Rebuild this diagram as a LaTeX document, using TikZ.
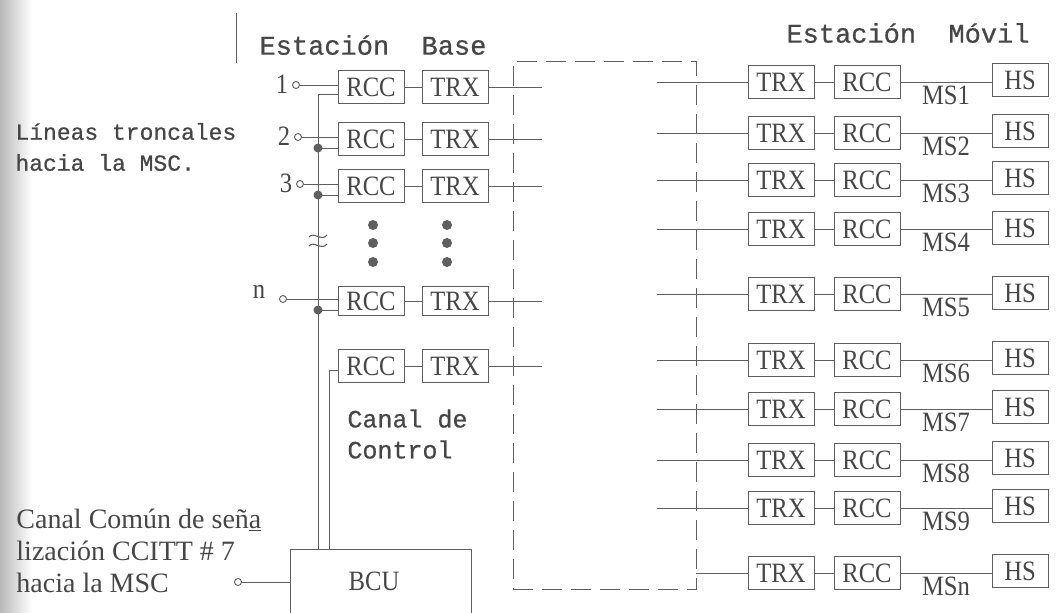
\documentclass[tikz,border=0pt]{standalone}
\usepackage{fontspec}
\setmainfont{Liberation Serif}
\setmonofont{Liberation Mono}
\newfontfamily\scanserif[FakeStretch=0.88]{Liberation Serif}
\newfontfamily\typefont[FakeBold=0.6]{Liberation Mono}
\usepackage{xcolor}
\definecolor{scanline}{RGB}{95,95,95}
\definecolor{scantext}{RGB}{70,70,70}
\usetikzlibrary{positioning, calc}

\begin{document}
\begin{tikzpicture}[x=1pt, y=-1pt, line width=0.9pt, draw=scanline,
  blk/.style={draw=scanline, text=scantext, minimum width=66pt, minimum height=33pt,
              inner sep=0pt, font=\scanserif\fontsize{28}{28}\selectfont},
  hsblk/.style={blk, minimum width=56pt},
  term/.style={circle, draw=scanline, fill=white, inner sep=0pt, minimum size=7pt},
  junc/.style={circle, fill=scanline, inner sep=0pt, minimum size=9pt},
  typed/.style={text=scantext, align=left},
  lbl/.style={text=scantext, font=\scanserif\fontsize{28}{28}\selectfont}]

\useasboundingbox (0,0) rectangle (1061,613);
\clip (0,0) rectangle (1061,613);
\shade[left color=black!28, right color=white] (0,0) rectangle (32,613);

% === Headings ===
\draw[scanline] (236,13) -- (236,63);
\node[typed, font=\typefont\fontsize{27}{30}\selectfont] (estbase) at (373,45) {Estación\ \ Base};
\node[typed, font=\typefont\fontsize{27}{30}\selectfont] (estmovil) at (908,33) {Estación\ \ Móvil};
\node[typed, font=\typefont\fontsize{23}{31}\selectfont, anchor=west, inner sep=0pt] (troncales) at (15,147)
     {Líneas troncales\\hacia la MSC.};

% === Base station channels ===
\node[blk] (rcc1) at (371,87) {RCC};
\node[blk] (trx1) at (455,87) {TRX};
\node[blk] (rcc2) at (371,139) {RCC};
\node[blk] (trx2) at (455,139) {TRX};
\node[blk] (rcc3) at (371,186) {RCC};
\node[blk] (trx3) at (455,186) {TRX};
\node[blk, minimum height=29pt] (rccn) at (371,301) {RCC};
\node[blk, minimum height=29pt] (trxn) at (455,301) {TRX};
\node[blk] (rccc) at (371,366) {RCC};
\node[blk] (trxc) at (455,366) {TRX};

\draw (rcc1) -- (trx1);
\draw (rcc2) -- (trx2);
\draw (rcc3) -- (trx3);
\draw (rccn) -- (trxn);
\draw (rccc) -- (trxc);

% dots between channel 3 and n
\fill[scanline] (373,225) circle (5);
\fill[scanline] (373,243) circle (5);
\fill[scanline] (373,262) circle (5);
\fill[scanline] (447,225) circle (5);
\fill[scanline] (447,243) circle (5);
\fill[scanline] (447,262) circle (5);

% trunk terminals
\node[term] (t1) at (296,85) {};
\node[term] (t2) at (298,137) {};
\node[term] (t3) at (300,184) {};
\node[term] (tn) at (283,299) {};
\node[lbl, left=0pt of t1, yshift=1pt] (l1) {1};
\node[lbl, left=0pt of t2, yshift=1pt] (l2) {2};
\node[lbl, left=0pt of t3, yshift=1pt] (l3) {3};
\node[lbl] (ln) at (259,292) {n};

\draw (t1.east) -- (t1.east -| rcc1.west);
\draw (t2.east) -- (t2.east -| rcc2.west);
\draw (t3.east) -- (t3.east -| rcc3.west);
\draw (tn.east) -- (tn.east -| rccn.west);

% === BCU and buses ===
\node[blk, minimum width=181pt, minimum height=90pt, anchor=north] (bcu) at (381,549) {};
\node[lbl] (bcutext) at (374,581) {BCU};

\coordinate (bustop) at (318,94);
\node[junc] (j2) at (318,148) {};
\node[junc] (j3) at (318,195) {};
\node[junc] (jn) at (318,310) {};
\draw (bustop -| rcc1.west) -- (bustop) -- (bustop |- bcu.north);
\draw (j2.center) -- (j2.center -| rcc2.west);
\draw (j3.center) -- (j3.center -| rcc3.west);
\draw (jn.center) -- (jn.center -| rccn.west);
\coordinate (ctlbus) at (329,370);
\draw (ctlbus -| rccc.west) -- (ctlbus) -- (ctlbus |- bcu.north);

% break mark on the bus
\draw[line width=1.1pt] (309,237) .. controls (313,231) and (322,242) .. (327,235);
\draw[line width=1.1pt] (309,246) .. controls (313,240) and (322,251) .. (327,244);

\node[typed, font=\typefont\fontsize{25}{31}\selectfont, anchor=west, inner sep=0pt] (ctl) at (347,434)
     {Canal\ de\\Control};

\node[term] (tbcu) at (238,582) {};
\draw (tbcu.east) -- (tbcu.east -| bcu.west);
\node[typed, font=\fontsize{28}{32}\selectfont, anchor=west, inner sep=0pt] (ccs7) at (16,551)
     {Canal Común de señ\underline{a}\\lización CCITT \# 7\\hacia la MSC};

% === Radio path ===
\node[draw=scanline, dash pattern=on 20pt off 9pt, minimum width=183pt, minimum height=528pt,
      inner sep=0pt] (air) at (604.5,325) {};
\coordinate (airin) at (542,0);
\coordinate (airout) at (657,0);
\draw (trx1.east) -- (trx1.east -| airin);
\draw (trx2.east) -- (trx2.east -| airin);
\draw (trx3.east) -- (trx3.east -| airin);
\draw (trxn.east) -- (trxn.east -| airin);
\draw (trxc.east) -- (trxc.east -| airin);

% === Mobile stations ===
\node[blk] (mtrx1) at (781,82) {TRX};
\node[blk] (mrcc1) at (867,82) {RCC};
\node[hsblk] (hs1) at (1020,80) {HS};
\node[blk] (mtrx2) at (781,133) {TRX};
\node[blk] (mrcc2) at (867,133) {RCC};
\node[hsblk] (hs2) at (1020,131) {HS};
\node[blk] (mtrx3) at (781,180) {TRX};
\node[blk] (mrcc3) at (867,180) {RCC};
\node[hsblk] (hs3) at (1020,178) {HS};
\node[blk] (mtrx4) at (781,229) {TRX};
\node[blk] (mrcc4) at (867,229) {RCC};
\node[hsblk] (hs4) at (1020,228) {HS};
\node[blk] (mtrx5) at (781,294) {TRX};
\node[blk] (mrcc5) at (867,294) {RCC};
\node[hsblk] (hs5) at (1020,293) {HS};
\node[blk] (mtrx6) at (781,360) {TRX};
\node[blk] (mrcc6) at (867,360) {RCC};
\node[hsblk] (hs6) at (1020,358) {HS};
\node[blk] (mtrx7) at (781,409) {TRX};
\node[blk] (mrcc7) at (867,409) {RCC};
\node[hsblk] (hs7) at (1020,407) {HS};
\node[blk] (mtrx8) at (781,460) {TRX};
\node[blk] (mrcc8) at (867,460) {RCC};
\node[hsblk] (hs8) at (1020,458) {HS};
\node[blk] (mtrx9) at (781,508) {TRX};
\node[blk] (mrcc9) at (867,508) {RCC};
\node[hsblk] (hs9) at (1020,506) {HS};
\node[blk] (mtrxn) at (781,573) {TRX};
\node[blk] (mrccn) at (867,573) {RCC};
\node[hsblk] (hsn) at (1020,571) {HS};

\draw (airout |- mtrx1) -- (mtrx1);
\draw (airout |- mtrx2) -- (mtrx2);
\draw (airout |- mtrx3) -- (mtrx3);
\draw (airout |- mtrx4) -- (mtrx4);
\draw (airout |- mtrx5) -- (mtrx5);
\draw (airout |- mtrx6) -- (mtrx6);
\draw (airout |- mtrx7) -- (mtrx7);
\draw (airout |- mtrx8) -- (mtrx8);
\draw (airout |- mtrx9) -- (mtrx9);
\draw (air.east |- mtrxn) -- (mtrxn);

\draw (mtrx1) -- (mrcc1);
\draw (mtrx2) -- (mrcc2);
\draw (mtrx3) -- (mrcc3);
\draw (mtrx4) -- (mrcc4);
\draw (mtrx5) -- (mrcc5);
\draw (mtrx6) -- (mrcc6);
\draw (mtrx7) -- (mrcc7);
\draw (mtrx8) -- (mrcc8);
\draw (mtrx9) -- (mrcc9);
\draw (mtrxn) -- (mrccn);

\draw (mrcc1.east) -- (mrcc1.east -| hs1.west) node[lbl, midway, below=0pt] (ms1) {MS1};
\draw (mrcc2.east) -- (mrcc2.east -| hs2.west) node[lbl, midway, below=0pt] (ms2) {MS2};
\draw (mrcc3.east) -- (mrcc3.east -| hs3.west) node[lbl, midway, below=0pt] (ms3) {MS3};
\draw (mrcc4.east) -- (mrcc4.east -| hs4.west) node[lbl, midway, below=0pt] (ms4) {MS4};
\draw (mrcc5.east) -- (mrcc5.east -| hs5.west) node[lbl, midway, below=0pt] (ms5) {MS5};
\draw (mrcc6.east) -- (mrcc6.east -| hs6.west) node[lbl, midway, below=0pt] (ms6) {MS6};
\draw (mrcc7.east) -- (mrcc7.east -| hs7.west) node[lbl, midway, below=0pt] (ms7) {MS7};
\draw (mrcc8.east) -- (mrcc8.east -| hs8.west) node[lbl, midway, below=0pt] (ms8) {MS8};
\draw (mrcc9.east) -- (mrcc9.east -| hs9.west) node[lbl, midway, below=0pt] (ms9) {MS9};
\draw (mrccn.east) -- (mrccn.east -| hsn.west) node[lbl, midway, below=0pt] (msn) {MSn};

\end{tikzpicture}
\end{document}
